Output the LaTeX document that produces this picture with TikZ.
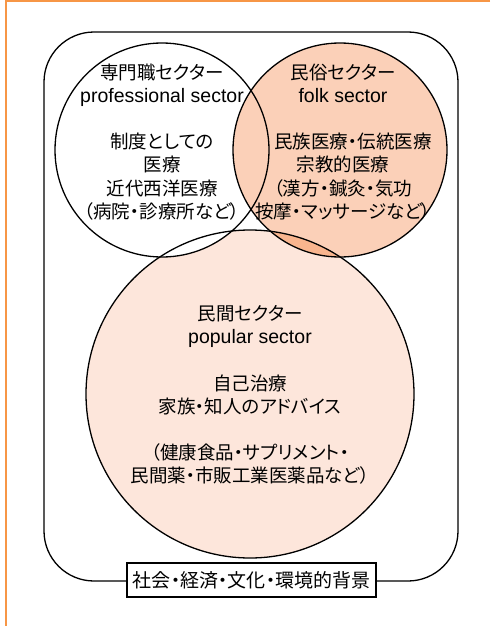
\documentclass[tikz,border=0pt]{standalone}
\usepackage{fontspec}
\setmainfont[RawFeature=+palt]{Noto Sans CJK JP}
\newfontfamily\latfont{Liberation Sans}
\newcommand{\lat}[1]{{\latfont\fontsize{19.5}{23}\selectfont #1}}
\definecolor{frameorange}{HTML}{F79646}
\definecolor{folkfill}{HTML}{FBD0B8}
\definecolor{popfill}{HTML}{FDE6DB}
\definecolor{overlapfill}{HTML}{F9B58E}
\begin{document}
\begin{tikzpicture}[x=1pt,y=-1pt,
  sector/.style={line width=1.3pt,draw=black},
  sectortext/.style={align=center,font=\fontsize{18.5}{23.2}\selectfont,inner sep=0pt},
  labelbox/.style={draw=black,line width=1.2pt,fill=white,font=\fontsize{19}{22}\selectfont,minimum width=249pt,minimum height=34pt,inner sep=0pt}]
\useasboundingbox (0,0) rectangle (490,626);
\draw[frameorange,line width=1.4pt] (490,1) -- (6,1) -- (6,626);
% outer rounded frame
\draw[line width=1.3pt,rounded corners=50pt] (44,32) rectangle (458,581);
% fills
\fill[popfill] (250,394) circle[radius=164pt];
\fill[white] (162,150) circle[radius=107pt];
\fill[folkfill] (340,150) circle[radius=107pt];
\begin{scope}
  \clip (250,394) circle[radius=164pt];
  \fill[overlapfill] (340,150) circle[radius=107pt];
\end{scope}
% outlines
\node[sector,circle,minimum size=214pt] (prof) at (162,150) {};
\node[sector,circle,minimum size=214pt] (folk) at (340,150) {};
\node[sector,circle,minimum size=328pt] (pop) at (250,394) {};
% texts
\node[sectortext] (proftext) at (162,142) {専門職セクター\\\lat{professional sector}\\[23pt]制度としての\\医療\\近代西洋医療\\（病院・診療所など）};
\node[sectortext] (folktext) at (343,142) {民俗セクター\\\lat{folk sector}\\[23pt]\hspace*{20pt}民族医療・伝統医療\\宗教的医療\\（漢方・鍼灸・気功\\按摩・マッサージなど）};
\node[sectortext] (poptext) at (250,395) {民間セクター\\\lat{popular sector}\\[23pt]自己治療\\家族・知人のアドバイス\\[23pt]（健康食品・サプリメント・\\民間薬・市販工業医薬品など）};
\node[labelbox] (bg) at (251.5,580) {社会・経済・文化・環境的背景};
\end{tikzpicture}
\end{document}
